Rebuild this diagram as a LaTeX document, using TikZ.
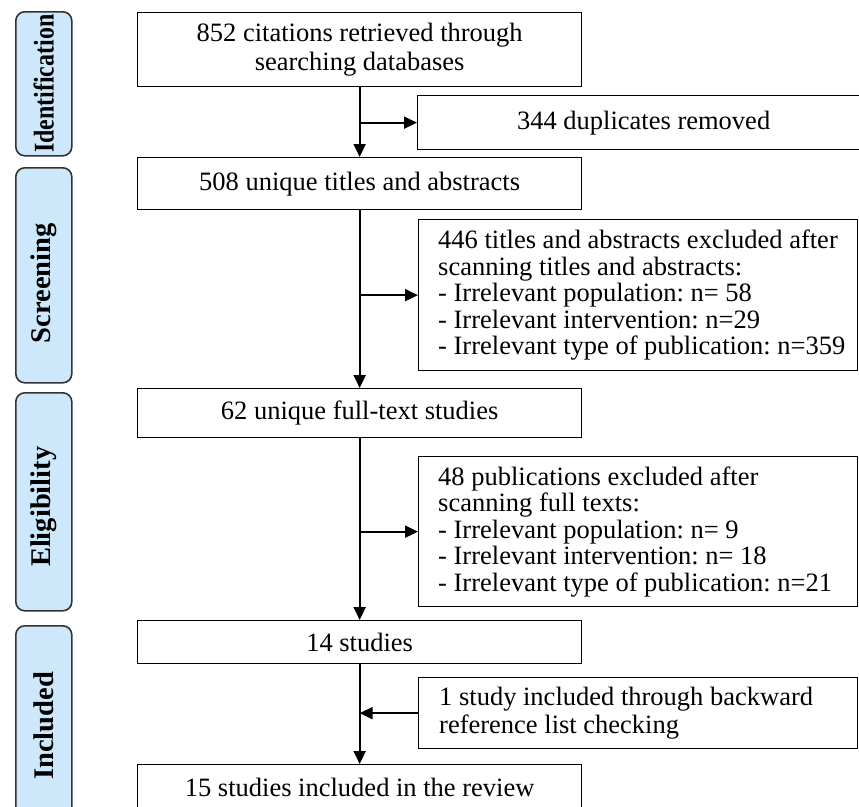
\documentclass[tikz,border=0pt]{standalone}
\usepackage{fontspec}
\usepackage{graphicx}
\setmainfont{Liberation Serif}
\frenchspacing
\usetikzlibrary{arrows.meta}
\definecolor{sidefill}{HTML}{CDE8FA}
\definecolor{sidedraw}{HTML}{333333}
\begin{document}
\begin{tikzpicture}[x=1pt,y=-1pt,
  mainbox/.style={draw=black, line width=1.3pt, inner sep=0pt, anchor=north west,
    font=\fontsize{26.5}{28.5}\selectfont\frenchspacing, align=center},
  sidebox/.style={draw=sidedraw, fill=sidefill, line width=1.6pt, rounded corners=9pt,
    inner sep=0pt, anchor=north west},
  sidetext/.style={rotate=90, font=\fontsize{28.5}{30}\selectfont\bfseries},
  listtext/.style={align=left, inner sep=0pt, anchor=west,
    font=\fontsize{26.5}{26.5}\selectfont\frenchspacing},
  arr/.style={line width=2pt, -{Triangle[length=13pt,width=12pt]}}]
\useasboundingbox (0,0) rectangle (859,806);
\clip (0,0) rectangle (859,806);

% side labels
\node[sidebox, minimum width=56pt, minimum height=144pt] (sid) at (15,11) {};
\node[sidetext] (tid) at (sid.center) {\scalebox{0.84}[1]{Identification}};
\node[sidebox, minimum width=56pt, minimum height=215pt] (ssc) at (15,167) {};
\node[sidetext] (tsc) at ([yshift=-8pt]ssc.center) {Screening};
\node[sidebox, minimum width=56pt, minimum height=218pt] (sel) at (15,392) {};
\node[sidetext] (tel) at ([yshift=-5pt]sel.center) {Eligibility};
\node[sidebox, minimum width=56pt, minimum height=200pt] (sin) at (15,625) {};
\node[sidetext] (tin) at (sin.center) {Included};

% main column
\node[mainbox, minimum width=444pt, minimum height=74pt] (b1) at (137,12)
  {852 citations retrieved through\\searching databases};
\node[mainbox, minimum width=444pt, minimum height=52pt] (b2) at (137,157)
  {508 unique titles and abstracts};
\node[mainbox, minimum width=444pt, minimum height=49pt] (b3) at (137,388)
  {62 unique full-text studies};
\node[mainbox, minimum width=444pt, minimum height=43pt] (b4) at (137,620)
  {14 studies};
\node[mainbox, minimum width=444pt, minimum height=46pt] (b5) at (137,764)
  {15 studies included in the review};

% side boxes
\node[mainbox, minimum width=452pt, minimum height=54pt] (dup) at (417,95)
  {344 duplicates removed};
\node[mainbox, minimum width=439pt, minimum height=151pt] (ex1) at (418,219) {};
\node[listtext] (tx1) at ([xshift=20pt]ex1.west)
  {446 titles and abstracts excluded after\\scanning titles and abstracts:\\- Irrelevant population: n= 58\\- Irrelevant intervention: n=29\\- Irrelevant type of publication: n=359};
\node[mainbox, minimum width=439pt, minimum height=150pt] (ex2) at (418,456) {};
\node[listtext] (tx2) at ([xshift=20pt]ex2.west)
  {48 publications excluded after\\scanning full texts:\\- Irrelevant population: n= 9\\- Irrelevant intervention: n= 18\\- Irrelevant type of publication: n=21};
\node[mainbox, minimum width=439pt, minimum height=71pt] (one) at (418,677) {};
\node[listtext, font=\fontsize{26.5}{27.5}\selectfont\frenchspacing] (tx3) at ([xshift=21pt]one.west)
  {1 study included through backward\\reference list checking};

% junctions
\coordinate (j1) at (b1.south |- dup.west);
\coordinate (j2) at (b1.south |- ex1.west);
\coordinate (j3) at (b1.south |- ex2.west);
\coordinate (j4) at (b1.south |- one.west);

% connectors
\draw[arr] (b1.south) -- (b2.north);
\draw[arr] (j1) -- (dup.west);
\draw[arr] (b2.south) -- (b3.north);
\draw[arr] (j2) -- (ex1.west);
\draw[arr] (b3.south) -- (b4.north);
\draw[arr] (j3) -- (ex2.west);
\draw[arr] (b4.south) -- (b5.north);
\draw[arr] (one.west) -- (j4);
\end{tikzpicture}
\end{document}
